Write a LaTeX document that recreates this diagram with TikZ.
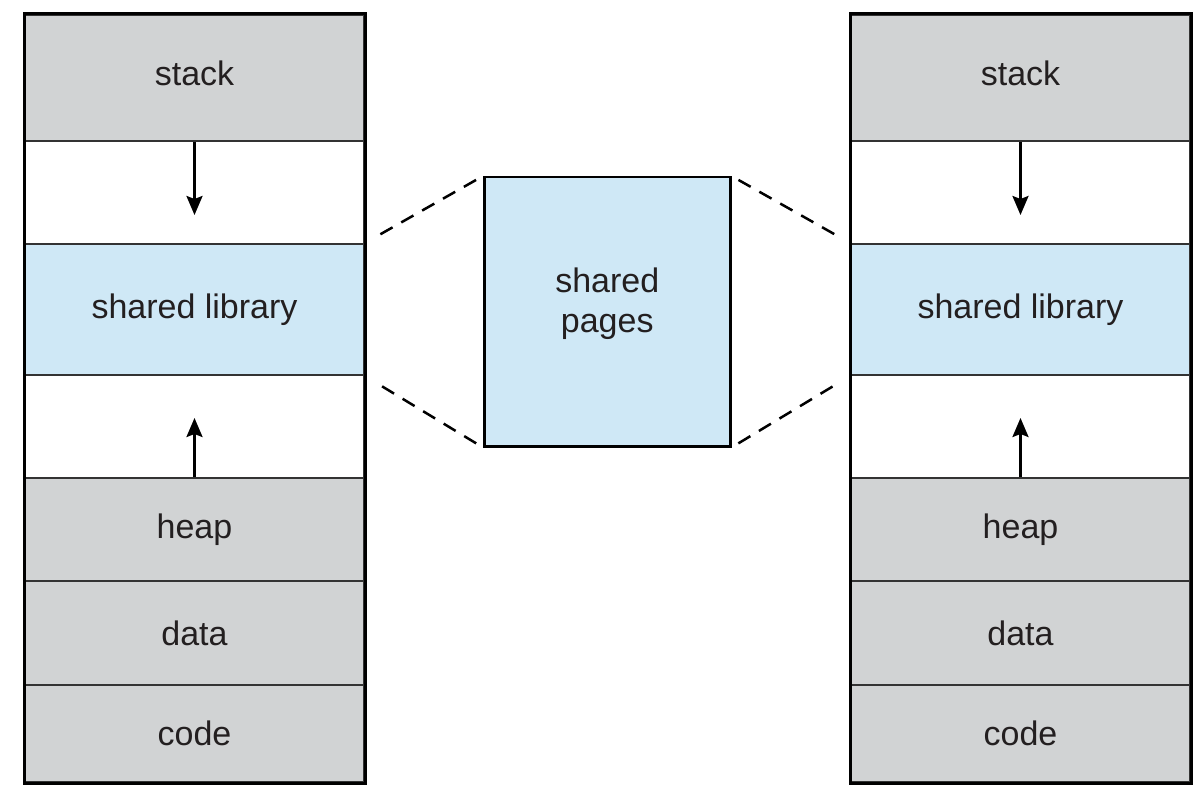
\documentclass[tikz,border=0pt]{standalone}
\usepackage{fontspec}
\setmainfont{Liberation Sans}
\usetikzlibrary{arrows.meta}
\definecolor{segGray}{HTML}{D1D3D4}
\definecolor{segBlue}{HTML}{CFE8F6}
\definecolor{lineGray}{HTML}{333333}
\definecolor{textGray}{HTML}{231F20}
\tikzset{
  seg/.style={draw=lineGray, line width=2pt, minimum width=339pt, inner sep=0pt, anchor=north west, font=\fontsize{34}{38}\selectfont, text=textGray, align=center},
  gseg/.style={seg, fill=segGray},
  bseg/.style={seg, fill=segBlue},
  wseg/.style={seg, fill=white},
  growarrow/.style={-{Stealth[length=19pt,width=16pt,inset=3pt]}, line width=2.5pt, black},
  link/.style={dashed, dash pattern=on 14pt off 10pt, line width=2.5pt, black},
  outer/.style={draw=black, line width=3pt}
}
\begin{document}
\begin{tikzpicture}[x=1pt,y=-1pt]
\useasboundingbox[fill=white] (0,0) rectangle (1202,802);
\foreach \side/\x in {L/24,R/850}{
  \node[gseg, minimum height=126pt, text depth=10pt] (stack\side) at (\x,14) {stack};
  \node[wseg, minimum height=103pt] (gapA\side) at (\x,140) {};
  \node[bseg, minimum height=131pt] (lib\side) at (\x,243) {shared library};
  \node[wseg, minimum height=103pt] (gapB\side) at (\x,374) {};
  \node[gseg, minimum height=103pt] (heap\side) at (\x,477) {heap};
  \node[gseg, minimum height=104pt] (data\side) at (\x,580) {data};
  \node[gseg, minimum height=97pt] (code\side) at (\x,684) {code};
  \draw[outer] (stack\side.north west) rectangle (code\side.south east);
  \draw[growarrow] (stack\side.south) -- ++(0,73);
  \draw[growarrow] (heap\side.north) -- ++(0,-59);
}
\node[draw=black, line width=2.5pt, fill=segBlue, minimum width=246pt, minimum height=269pt, anchor=north west, inner sep=0pt, text=textGray] (pages) at (483,176) {};
\node[font=\fontsize{34}{40}\selectfont, text=textGray, align=center] (pagestext) at ([yshift=8pt]pages.center) {shared\\pages};
\draw[link, shorten <=8pt, shorten >=15pt] (pages.north west) -- (libL.north east);
\draw[link, shorten <=8pt, shorten >=15pt] (pages.south west) -- (libL.south east);
\draw[link, shorten <=8pt, shorten >=15pt] (pages.north east) -- (libR.north west);
\draw[link, shorten <=8pt, shorten >=15pt] (pages.south east) -- (libR.south west);
\end{tikzpicture}
\end{document}
